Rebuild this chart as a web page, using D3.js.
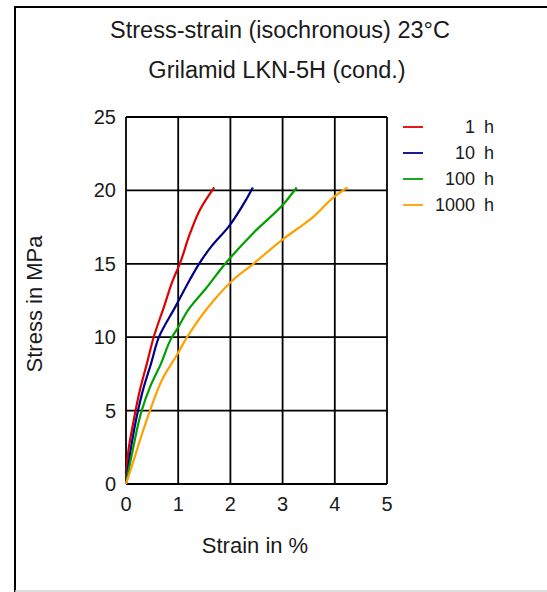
<!DOCTYPE html>
<html>
<head>
<meta charset="utf-8">
<script src="https://cdn.jsdelivr.net/npm/d3@7"></script>
<style>
  body { margin: 0; background: #fff; }
  svg { display: block; }
</style>
</head>
<body>
<script>
// isochronous stress-strain curves, strain in %, stress in MPa
const seriesNames = ['1 h', '10 h', '100 h', '1000 h'];
const seriesColors = ['#e00000', '#00008b', '#00a000', '#ffa000'];

const strain1h = [0, 0.04, 0.14, 0.28, 0.4, 0.53, 0.73, 0.9, 1.03, 1.23, 1.42, 1.69];
const stress1h = [0, 2.1, 4.2, 6.6, 8.2, 10, 12.1, 13.9, 15, 17.1, 18.7, 20.2];

const strain10h = [0, 0.08, 0.23, 0.34, 0.48, 0.63, 0.95, 1.22, 1.4, 1.64, 1.96, 2.29, 2.43];
const stress10h = [0, 2.1, 5, 6.6, 8.2, 10, 12.1, 13.9, 15, 16.2, 17.5, 19.3, 20.2];

const strain100h = [0, 0.14, 0.3, 0.46, 0.67, 0.88, 0.97, 1.19, 1.55, 1.9, 2.44, 3.0, 3.27];
const stress100h = [0, 2.5, 5, 6.6, 8.2, 10, 10.5, 11.85, 13.4, 15, 17.1, 19.0, 20.2];

const strain1000h = [0, 0.11, 0.27, 0.46, 0.72, 0.96, 1.17, 1.68, 2.05, 2.44, 2.98, 3.59, 4.0, 4.24];
const stress1000h = [0, 1.2, 3.0, 5, 7.3, 8.7, 10, 12.5, 13.9, 15, 16.6, 18.2, 19.6, 20.2];

const xTicks = [0, 1, 2, 3, 4, 5];
const yTicks = [0, 5, 10, 15, 20, 25];

const strains = [strain1h, strain10h, strain100h, strain1000h];
const stresses = [stress1h, stress10h, stress100h, stress1000h];

const width = 547, height = 592;
const font = '"Liberation Sans", Arial, sans-serif';
const ink = '#1a1a1a';

const svg = d3.select('body').append('svg')
  .attr('width', width)
  .attr('height', height)
  .style('font-family', font);

svg.append('rect').attr('width', width).attr('height', height).attr('fill', '#fff');

// outer frame (left + top visible)
svg.append('path')
  .attr('d', `M15,${height}V7H${width}`)
  .attr('fill', 'none').attr('stroke', '#000').attr('stroke-width', 2);
svg.append('line')
  .attr('x1', 15).attr('x2', width).attr('y1', 591).attr('y2', 591)
  .attr('stroke', '#d0d0d0').attr('stroke-width', 1.5);

const x = d3.scaleLinear().domain([0, 5]).range([126, 387]);
const y = d3.scaleLinear().domain([0, 25]).range([484, 117]);

// grid
const grid = svg.append('g').attr('stroke', '#000').attr('stroke-width', 1.8);
grid.selectAll('.vx').data(xTicks).join('line')
  .attr('x1', d => x(d)).attr('x2', d => x(d))
  .attr('y1', y(0)).attr('y2', y(25));
grid.selectAll('.hy').data(yTicks).join('line')
  .attr('x1', x(0)).attr('x2', x(5))
  .attr('y1', d => y(d)).attr('y2', d => y(d));

// tick labels
svg.append('g').selectAll('text').data(xTicks).join('text')
  .attr('x', d => x(d)).attr('y', 511)
  .attr('text-anchor', 'middle')
  .attr('font-size', 20).attr('fill', ink)
  .text(d => d);
svg.append('g').selectAll('text').data(yTicks).join('text')
  .attr('x', 116).attr('y', d => y(d)).attr('dy', '0.35em')
  .attr('text-anchor', 'end')
  .attr('font-size', 20).attr('fill', ink)
  .text(d => d);

// curves
const line = d3.line().curve(d3.curveMonotoneY).x(d => x(d[0])).y(d => y(d[1]));
svg.append('g').attr('fill', 'none').attr('stroke-width', 2.2)
  .selectAll('path').data(seriesNames).join('path')
  .attr('stroke', (d, i) => seriesColors[i])
  .attr('d', (d, i) => line(d3.zip(strains[i], stresses[i])));

// titles
svg.append('text').attr('x', 280).attr('y', 38).attr('text-anchor', 'middle')
  .attr('font-size', 23.5).attr('fill', ink)
  .text('Stress-strain (isochronous) 23°C');
svg.append('text').attr('x', 277).attr('y', 78).attr('text-anchor', 'middle')
  .attr('font-size', 23.5).attr('fill', ink)
  .text('Grilamid LKN-5H (cond.)');

// axis labels
svg.append('text').attr('x', 255).attr('y', 553).attr('text-anchor', 'middle')
  .attr('font-size', 22).attr('fill', ink)
  .text('Strain in %');
svg.append('text')
  .attr('transform', 'translate(42,304) rotate(-90)')
  .attr('text-anchor', 'middle')
  .attr('font-size', 22).attr('fill', ink)
  .text('Stress in MPa');

// legend
const legend = svg.append('g').selectAll('g').data(seriesNames).join('g')
  .attr('transform', (d, i) => `translate(0,${127 + i * 26})`);
legend.append('line')
  .attr('x1', 403).attr('x2', 423)
  .attr('stroke', (d, i) => seriesColors[i]).attr('stroke-width', 1.8);
legend.append('text')
  .attr('x', 494).attr('dy', '0.35em')
  .attr('text-anchor', 'end')
  .attr('font-size', 18).attr('fill', ink)
  .text(d => d.replace(' ', '\u2002'));
</script>
</body>
</html>
